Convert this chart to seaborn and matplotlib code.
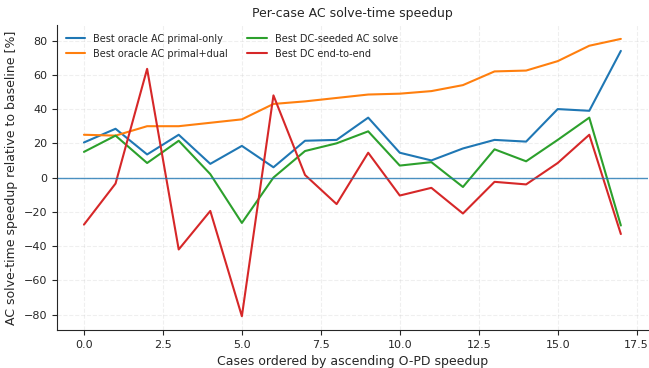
import numpy as np
import pandas as pd
import matplotlib
matplotlib.use("Agg")
import matplotlib.pyplot as plt
import seaborn as sns

# values, one per case (cases 0..17)
cases = list(range(18))
primal_only = [20.5, 28.5, 13.5, 25, 8, 18.5, 6, 21.5, 22, 35, 14.5, 10, 17, 22, 21, 40, 39, 74]
primal_dual = [25, 24.5, 30, 30, 32, 34, 43, 44.5, 46.5, 48.5, 49, 50.5, 54, 62, 62.5, 68, 77, 81]
dc_seeded = [15, 24.5, 8.5, 21.5, 2, -26.5, 0, 15.5, 20, 27, 7, 9, -5.5, 16.5, 9.5, 22, 35, -28]
dc_end2end = [-27.5, -3.5, 63.5, -42, -19.5, -81, 48, 1.5, -15.5, 14.5, -10.5, -6, -21, -2.5, -4, 8.5, 25, -33]

labels = ["Best oracle AC primal-only", "Best oracle AC primal+dual",
          "Best DC-seeded AC solve", "Best DC end-to-end"]

df = pd.DataFrame({"case": cases * 4,
                   "speedup": primal_only + primal_dual + dc_seeded + dc_end2end,
                   "series": [l for l in labels for _ in cases]})

sns.set_style("ticks")
plt.rcParams['font.family'] = ['DejaVu Sans']

fig, ax = plt.subplots(figsize=(6.49, 3.68), dpi=100)
sns.lineplot(data=df, x="case", y="speedup", hue="series", hue_order=labels,
             palette=["#1f77b4", "#ff7f0e", "#2ca02c", "#d62728"], linewidth=1.5, ax=ax)
ax.axhline(0, color="#1f77b4", linewidth=1, alpha=0.8)

ax.set_title("Per-case AC solve-time speedup", fontsize=9)
ax.set_xlabel("Cases ordered by ascending O-PD speedup", fontsize=9)
ax.set_ylabel("AC solve-time speedup relative to baseline [%]", fontsize=9)
ax.tick_params(labelsize=8)
ax.grid(True, linestyle="--", alpha=0.3)
ax.legend(ncol=2, loc="upper left", fontsize=7, frameon=False)
sns.despine(ax=ax)

fig.subplots_adjust(left=0.088, right=0.998, top=0.932, bottom=0.103)
fig.savefig("out.png", dpi=100)
